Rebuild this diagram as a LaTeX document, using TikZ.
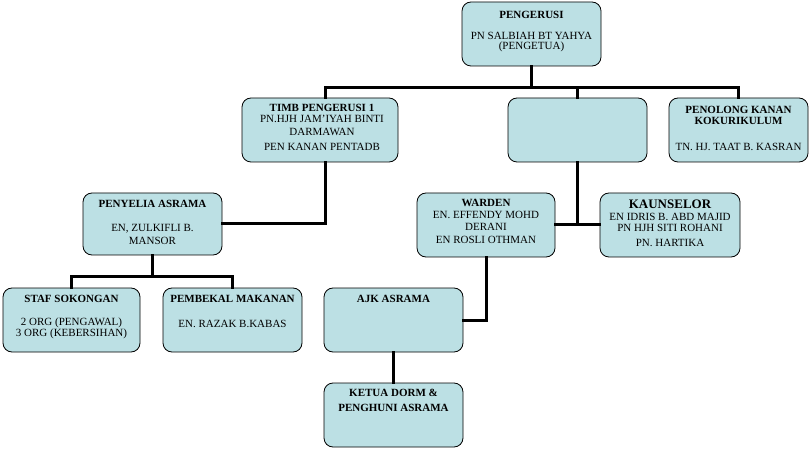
\documentclass[tikz,border=0pt]{standalone}
\usepackage{fontspec}
\setmainfont{Liberation Serif}
\definecolor{boxfill}{RGB}{188,224,228}
\newcommand{\boxlines}[1]{\begin{tabular}[t]{@{}c@{}}#1\end{tabular}}
\tikzset{
  orgbox/.style={draw=black, line width=0.8pt, fill=boxfill, rounded corners=9pt, inner sep=0pt},
  boxtext/.style={anchor=base, inner sep=0pt, font=\fontsize{11}{11}\selectfont},
  link/.style={line width=3pt, line cap=rect}
}
\begin{document}
\begin{tikzpicture}[x=1pt,y=1pt]
\useasboundingbox[fill=white] (0,0) rectangle (810,450);
% boxes
\node[orgbox, minimum width=139pt, minimum height=64pt] (P)   at (531.5,416) {};
\node[orgbox, minimum width=139pt, minimum height=64pt] (M)   at (577.5,320) {};
\node[orgbox, minimum width=139pt, minimum height=64pt] (PK)  at (738.5,320) {};
\node[orgbox, minimum width=156pt, minimum height=64pt] (T)   at (320,320) {};
\node[orgbox, minimum width=139pt, minimum height=62pt] (S)   at (152.5,226) {};
\node[orgbox, minimum width=137pt, minimum height=64pt] (ST)  at (71.5,130) {};
\node[orgbox, minimum width=139pt, minimum height=64pt] (PB)  at (232.5,130) {};
\node[orgbox, minimum width=138pt, minimum height=64pt] (W)   at (486,225) {};
\node[orgbox, minimum width=140pt, minimum height=64pt] (K)   at (670,225) {};
\node[orgbox, minimum width=139pt, minimum height=64pt] (A)   at (393.5,130) {};
\node[orgbox, minimum width=139pt, minimum height=64pt] (KD)  at (393.5,35) {};
% connectors
\coordinate (busL) at (325,362);
\coordinate (busR) at (738.5,362);
\draw[link] (P.south) -- (P.south |- busL);
\draw[link] (busL) -- (busR);
\draw[link] (busL) -- (busL |- T.north);
\draw[link] (M.north |- busL) -- (M.north);
\draw[link] (busR) -- (PK.north);
\draw[link] (busL |- T.south) |- (S.east);
\draw[link] (S.south) -- ++(0,-21) coordinate (sb);
\draw[link] (ST.north) |- (sb) -| (PB.north);
\draw[link] (M.south) -- (M.south |- W.east);
\draw[link] (W.east) -- (K.west);
\draw[link] (W.south) |- (A.east);
\draw[link] (A.south) -- (KD.north);
% texts
\node[boxtext] (tP) at (531.5,431.3) {\boxlines{\textbf{PENGERUSI}\\[9.5pt] PN SALBIAH BT YAHYA\\[-0.5pt] (PENGETUA)}};
\node[boxtext] (tPK) at (738.5,336) {\boxlines{\textbf{PENOLONG KANAN}\\[-0.4pt] \textbf{KOKURIKULUM}\\[15pt] TN. HJ. TAAT B. KASRAN}};
\node[boxtext] (tT) at (322,338.3) {\boxlines{\textbf{TIMB PENGERUSI 1}\\[0pt] PN.HJH JAM'IYAH BINTI\\[2.2pt] DARMAWAN\\[4pt] PEN KANAN PENTADB}};
\node[boxtext] (tS) at (152.5,242.3) {\boxlines{\textbf{PENYELIA ASRAMA}\\[12.5pt] EN, ZULKIFLI B.\\[2.3pt] MANSOR}};
\node[boxtext] (tW) at (486,243.6) {\boxlines{\textbf{WARDEN}\\[1.3pt] EN. EFFENDY MOHD\\[0.7pt] DERANI\\[2.6pt] EN ROSLI OTHMAN}};
\node[boxtext] (tK) at (670,241.2) {\boxlines{{\fontsize{13}{11}\selectfont\bfseries KAUNSELOR}\\[0.9pt] EN IDRIS B. ABD MAJID\\[-0.4pt] PN HJH SITI ROHANI\\[4.5pt] PN. HARTIKA}};
\node[boxtext] (tST) at (71.5,147.6) {\boxlines{\textbf{STAF SOKONGAN}\\[12.5pt] 2 ORG (PENGAWAL)\\[-0.4pt] 3 ORG (KEBERSIHAN)}};
\node[boxtext] (tPB) at (232.5,147.6) {\boxlines{\textbf{PEMBEKAL MAKANAN}\\[14.1pt] EN. RAZAK B.KABAS}};
\node[boxtext] (tA) at (393.5,148) {\textbf{AJK ASRAMA}};
\node[boxtext] (tKD) at (393.5,54) {\boxlines{\textbf{KETUA DORM \&}\\[4.3pt] \textbf{PENGHUNI ASRAMA}}};
\end{tikzpicture}
\end{document}
